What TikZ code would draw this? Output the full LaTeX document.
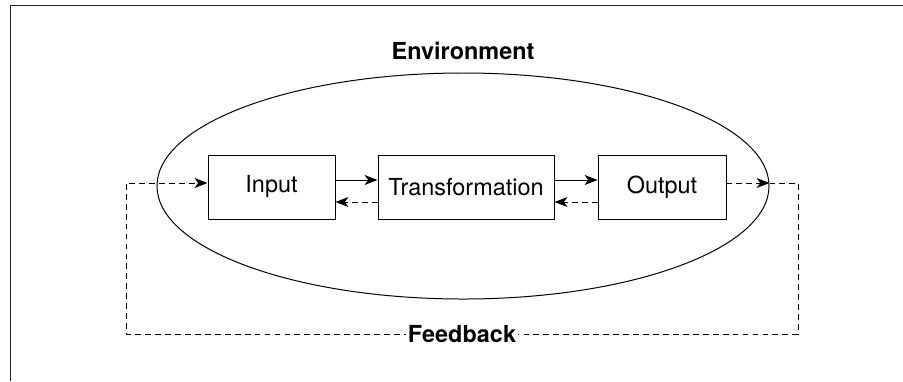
\documentclass[tikz,border=0pt]{standalone}
\usepackage{fontspec}
\setmainfont{TeX Gyre Heros}
\usetikzlibrary{arrows.meta,shapes.geometric}

\tikzset{
    block/.style={draw, minimum height=1.92cm, inner sep=0pt},
    flow/.style={-{Stealth[length=11pt, width=8.5pt, inset=3pt]}},
    loose/.style={dash pattern=on 5pt off 3.5pt},
    label/.style={font=\fontsize{20}{24}\selectfont\bfseries}
}

\begin{document}
\begin{tikzpicture}[x=0.03cm, y=-0.03cm, line width=0.85pt, font=\fontsize{20}{24}\selectfont]
    \useasboundingbox (0,0) rectangle (903,381);

    % Frame
    \draw[black!85] (10.5,381) -- (10.5,5) -- (903,5);

    % Environment
    \node[draw, ellipse, minimum width=18.36cm, minimum height=6.78cm] (env) at (463,186) {};
    \node[label] (envlabel) at (463,51) {Environment};

    % Boxes
    \node[block, minimum width=3.81cm] (input) at (271.5,187) {Input};
    \node[block, minimum width=5.28cm] (transform) at (466,187) {Transformation};
    \node[block, minimum width=3.84cm] (output) at (662,187) {Output};

    % Forward flow
    \draw[flow] ([yshift=0.21cm]input.east) -- ([yshift=0.21cm]transform.west);
    \draw[flow] ([yshift=0.21cm]transform.east) -- ([yshift=0.21cm]output.west);

    % Backward flow
    \draw[flow, loose] ([yshift=-0.45cm]transform.west) -- ([yshift=-0.45cm]input.east);
    \draw[flow, loose] ([yshift=-0.45cm]output.west) -- ([yshift=-0.45cm]transform.east);

    % Feedback loop
    \coordinate (fbout) at ([yshift=0.12cm]output.east);
    \coordinate (fbin) at ([yshift=0.12cm]input.west);
    \coordinate (fbright) at (798,334);
    \coordinate (fbleft) at (126,334);
    \draw[flow, loose] (fbout) -- (env.east |- fbout);
    \draw[flow, loose] (env.east |- fbout) -- (fbright |- fbout) -- (fbright)
        -- (fbleft) -- (fbleft |- fbin) -- (fbin);
    \node[label, fill=white, inner sep=2pt] (fb) at (462,334) {Feedback};
\end{tikzpicture}
\end{document}
